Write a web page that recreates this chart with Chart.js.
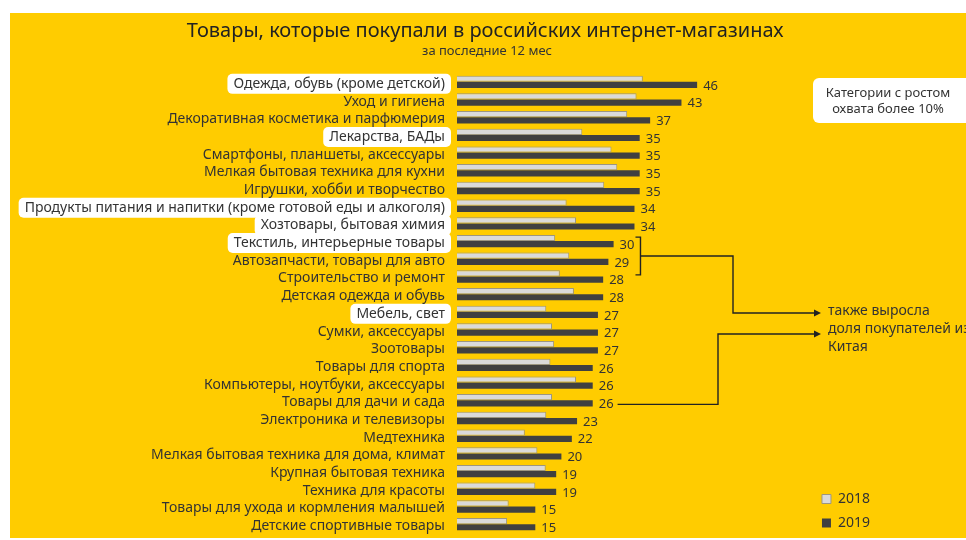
<!DOCTYPE html>
<html>
<head>
<meta charset="utf-8">
<script src="https://cdn.jsdelivr.net/npm/chart.js@4.4.1/dist/chart.umd.min.js"></script>
<style>
  html, body { margin: 0; padding: 0; background: #fff; }
  #wrap { width: 966px; height: 540px; }
</style>
</head>
<body>
<div id="wrap"><canvas id="shopChart" width="966" height="540"></canvas></div>
<script>
// доля покупателей по категориям, %
const categories = [
  'Одежда, обувь (кроме детской)',
  'Уход и гигиена',
  'Декоративная косметика и парфюмерия',
  'Лекарства, БАДы',
  'Смартфоны, планшеты, аксессуары',
  'Мелкая бытовая техника для кухни',
  'Игрушки, хобби и творчество',
  'Продукты питания и напитки (кроме готовой еды и алкоголя)',
  'Хозтовары, бытовая химия',
  'Текстиль, интерьерные товары',
  'Автозапчасти, товары для авто',
  'Строительство и ремонт',
  'Детская одежда и обувь',
  'Мебель, свет',
  'Сумки, аксессуары',
  'Зоотовары',
  'Товары для спорта',
  'Компьютеры, ноутбуки, аксессуары',
  'Товары для дачи и сада',
  'Электроника и телевизоры',
  'Медтехника',
  'Мелкая бытовая техника для дома, климат',
  'Крупная бытовая техника',
  'Техника для красоты',
  'Товары для ухода и кормления малышей',
  'Детские спортивные товары'
];
const share2018 = [35.6, 34.4, 32.6, 24.0, 29.6, 30.7, 28.2, 21.0, 22.8, 18.8, 21.5, 19.7, 22.4,
                   17.1, 18.2, 18.6, 17.9, 22.8, 18.2, 17.1, 13.0, 15.4, 17.0, 15.0, 9.9, 9.6];
const share2019 = [46, 43, 37, 35, 35, 35, 35, 34, 34, 30, 29, 28, 28,
                   27, 27, 27, 26, 26, 26, 23, 22, 20, 19, 19, 15, 15];
// категории с ростом охвата более 10%
const highlighted = [
  'Одежда, обувь (кроме детской)',
  'Лекарства, БАДы',
  'Продукты питания и напитки (кроме готовой еды и алкоголя)',
  'Хозтовары, бытовая химия',
  'Текстиль, интерьерные товары',
  'Мебель, свет'
];
// строки, от которых идут стрелки к подписи про Китай
const chinaBracket = ['Текстиль, интерьерные товары', 'Автозапчасти, товары для авто'];
const chinaSingle = 'Товары для дачи и сада';

const FONT = '"Noto Sans", "Open Sans", sans-serif';
const TEXT = '#333333';
const LABEL_SHIFT = 2;

function rrect(ctx, x, y, w, h, r) {
  ctx.beginPath();
  ctx.moveTo(x + r, y);
  ctx.arcTo(x + w, y, x + w, y + h, r);
  ctx.arcTo(x + w, y + h, x, y + h, r);
  ctx.arcTo(x, y + h, x, y, r);
  ctx.arcTo(x, y, x + w, y, r);
  ctx.closePath();
}

function arrow(ctx, pts) {
  ctx.beginPath();
  ctx.moveTo(pts[0][0], pts[0][1]);
  for (let i = 1; i < pts.length; i++) ctx.lineTo(pts[i][0], pts[i][1]);
  ctx.stroke();
  const [tx, ty] = pts[pts.length - 1];
  ctx.beginPath();
  ctx.moveTo(tx + 5, ty);
  ctx.lineTo(tx - 2, ty - 3.5);
  ctx.lineTo(tx - 2, ty + 3.5);
  ctx.closePath();
  ctx.fill();
}

const decor = {
  id: 'decor',
  beforeDraw(chart) {
    const ctx = chart.ctx;
    const yScale = chart.scales.y;
    ctx.save();
    ctx.fillStyle = '#ffffff';
    ctx.fillRect(0, 0, chart.width, chart.height);
    ctx.fillStyle = '#ffcc00';
    ctx.fillRect(10, 13, chart.width - 10, chart.height - 15);

    // заголовок
    ctx.fillStyle = '#222222';
    ctx.textAlign = 'center';
    ctx.textBaseline = 'middle';
    ctx.font = '20px ' + FONT;
    ctx.fillText('Товары, которые покупали в российских интернет-магазинах', 485, 31);
    ctx.fillStyle = TEXT;
    ctx.font = '13px ' + FONT;
    ctx.fillText('за последние 12 мес', 487, 51);

    // белые плашки под выделенными категориями
    ctx.font = '14px ' + FONT;
    ctx.fillStyle = '#ffffff';
    highlighted.forEach(name => {
      const i = categories.indexOf(name);
      const y = yScale.getPixelForTick(i) + LABEL_SHIFT;
      const w = ctx.measureText(name).width;
      const right = yScale.right - 9;
      rrect(ctx, right - w - 9, y - 10, w + 12, 20, 5);
      ctx.fill();
    });

    // поясняющая плашка справа вверху
    rrect(ctx, 813, 78, 160, 45, 6);
    ctx.fill();
    ctx.font = '13px ' + FONT;
    ctx.fillStyle = TEXT;
    ctx.fillText('Категории с ростом', 888, 93);
    ctx.fillText('охвата более 10%', 888, 109);
    ctx.restore();
  },
  afterDatasetsDraw(chart) {
    const ctx = chart.ctx;
    const meta = chart.getDatasetMeta(1);
    ctx.save();
    ctx.font = '13px ' + FONT;
    ctx.fillStyle = TEXT;
    ctx.textAlign = 'left';
    ctx.textBaseline = 'middle';
    const labelEnd = [];
    meta.data.forEach((bar, i) => {
      const txt = String(share2019[i]);
      ctx.fillText(txt, bar.x + 6, bar.y + 1);
      labelEnd[i] = bar.x + 6 + ctx.measureText(txt).width;
    });

    ctx.strokeStyle = '#222222';
    ctx.fillStyle = '#222222';
    ctx.lineWidth = 1.4;

    // скобка у двух строк и стрелка от неё
    const i0 = categories.indexOf(chinaBracket[0]);
    const i1 = categories.indexOf(chinaBracket[1]);
    const bx = Math.max(labelEnd[i0], labelEnd[i1]) + 6;
    const top = meta.data[i0].y - 7, bottom = meta.data[i1].y + 13;
    ctx.beginPath();
    ctx.moveTo(bx - 5, top);
    ctx.lineTo(bx, top);
    ctx.lineTo(bx, bottom);
    ctx.lineTo(bx - 5, bottom);
    ctx.stroke();
    const mid = (top + bottom) / 2;
    arrow(ctx, [[bx, mid], [733, mid], [733, 313], [816, 313]]);

    // стрелка от строки «Товары для дачи и сада»
    const s = categories.indexOf(chinaSingle);
    const sy = meta.data[s].y + 1;
    arrow(ctx, [[labelEnd[s] + 4, sy], [718, sy], [718, 334], [816, 334]]);

    ctx.fillStyle = TEXT;
    ctx.font = '14px ' + FONT;
    ctx.fillText('также выросла', 828, 311);
    ctx.fillText('доля покупателей из', 828, 329);
    ctx.fillText('Китая', 828, 347);
    ctx.restore();
  }
};

new Chart(document.getElementById('shopChart'), {
  type: 'bar',
  data: {
    labels: categories,
    datasets: [{
      label: '2018',
      data: share2018,
      backgroundColor: '#dadada',
      borderColor: '#9c9680',
      borderWidth: 1,
      categoryPercentage: 0.7,
      barPercentage: 1
    }, {
      label: '2019',
      data: share2019,
      backgroundColor: '#404040',
      borderColor: '#404040',
      borderWidth: 0,
      categoryPercentage: 0.7,
      barPercentage: 1
    }]
  },
  options: {
    indexAxis: 'y',
    responsive: false,
    animation: false,
    layout: {
      padding: { left: 0, right: 86, top: 73, bottom: 0 }
    },
    scales: {
      x: {
        display: false,
        min: 0,
        max: 68
      },
      y: {
        grid: { display: false, drawTicks: false },
        border: { display: false },
        ticks: {
          autoSkip: false,
          color: TEXT,
          padding: 12,
          labelOffset: LABEL_SHIFT,
          font: { family: FONT, size: 14 }
        },
        afterFit(scale) {
          scale.width = 457;
          scale.paddingTop = 0;
          scale.paddingBottom = 7;
        }
      }
    },
    plugins: {
      legend: {
        position: 'right',
        align: 'end',
        labels: {
          boxWidth: 9,
          boxHeight: 9,
          padding: 10,
          color: TEXT,
          font: { family: FONT, size: 14 }
        }
      },
      tooltip: { enabled: false }
    }
  },
  plugins: [decor]
});
</script>
</body>
</html>
